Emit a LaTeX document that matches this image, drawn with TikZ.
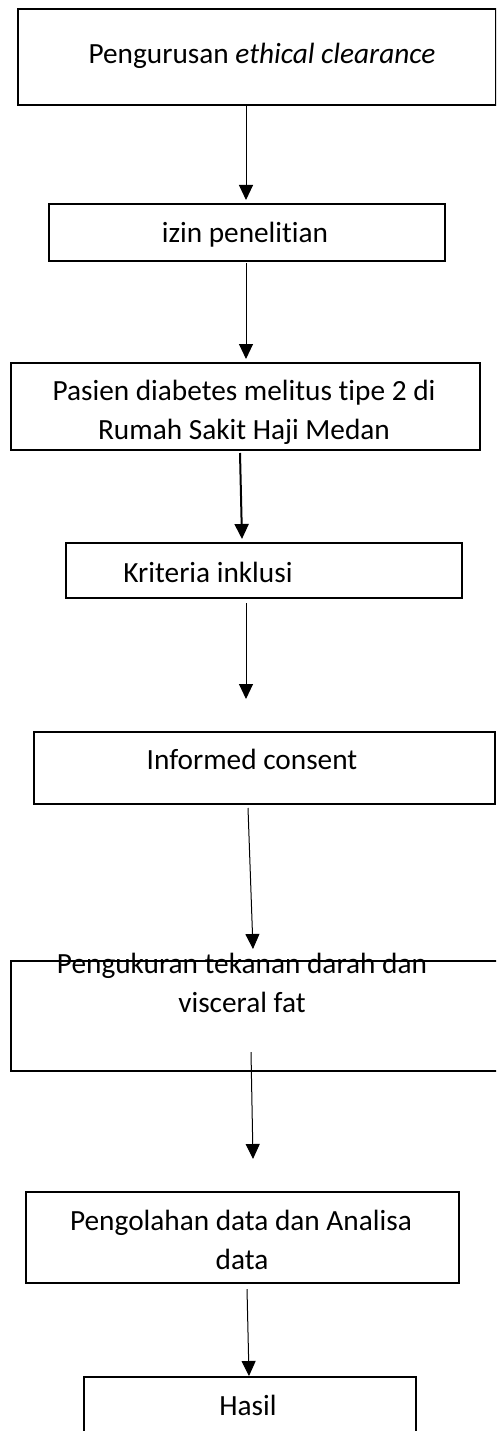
\documentclass[tikz,border=0pt]{standalone}
\usepackage{fontspec}
\setmainfont[Ligatures=NoCommon]{Carlito}
\usetikzlibrary{arrows.meta}
\begin{document}
\begin{tikzpicture}[x=1pt,y=-1pt,
  boxline/.style={draw=black,line width=2.2pt,fill=none},
  lbl/.style={inner sep=0pt,anchor=base,font=\fontsize{29.3}{39}\selectfont},
  conn/.style={draw=black,line width=1pt,-{Triangle[width=14pt,length=15pt]}},
  thickconn/.style={conn,line width=2pt}]
\useasboundingbox (0,0) rectangle (496,1431);
\clip (0,0) rectangle (496,1431);
% boxes
\node[boxline,inner sep=0pt,minimum width=478pt,minimum height=96pt,anchor=north west] (b1) at (17,8) {};
\node[boxline,inner sep=0pt,minimum width=396pt,minimum height=57pt,anchor=north west] (b2) at (48,203) {};
\node[boxline,inner sep=0pt,minimum width=469pt,minimum height=87pt,anchor=north west] (b3) at (10,362) {};
\node[boxline,inner sep=0pt,minimum width=396pt,minimum height=55pt,anchor=north west] (b4) at (65,542) {};
\node[boxline,inner sep=0pt,minimum width=461pt,minimum height=72pt,anchor=north west] (b5) at (33,731) {};
\node[boxline,inner sep=0pt,minimum width=500pt,minimum height=110pt,anchor=north west] (b6) at (10,960) {};
\node[boxline,inner sep=0pt,minimum width=433pt,minimum height=91pt,anchor=north west] (b7) at (25,1191) {};
\node[boxline,inner sep=0pt,minimum width=332pt,minimum height=80pt,anchor=north west] (b8) at (83,1376) {};
% texts
\node[lbl] (t1) at (262,64) {Pengurusan \textit{ethical clearance}};
\node[lbl] (t2) at (245,243) {izin penelitian};
\node[lbl] (t3a) at (244,400) {Pasien diabetes melitus tipe 2 di};
\node[lbl] (t3b) at (244,439) {Rumah Sakit Haji Medan};
\node[lbl] (t4) at (208,582) {Kriteria inklusi};
\node[lbl] (t5) at (252,769) {Informed consent};
\node[lbl] (t6a) at (242,973) {Pengukuran tekanan darah dan};
\node[lbl] (t6b) at (242,1012) {visceral fat};
\node[lbl] (t7a) at (241,1230) {Pengolahan data dan Analisa};
\node[lbl] (t7b) at (242,1269) {data};
\node[lbl] (t8) at (248,1415) {Hasil};
% connector ends
\coordinate (a1s) at (246,105); \coordinate (a1e) at (246,200);
\coordinate (a2s) at (246,263); \coordinate (a2e) at (246,359);
\coordinate (a3s) at (240,453); \coordinate (a3e) at (242,539);
\coordinate (a4s) at (246,603); \coordinate (a4e) at (246,699);
\coordinate (a5s) at (248,808); \coordinate (a5e) at (253,949);
\coordinate (a6s) at (251,1052); \coordinate (a6e) at (253,1159);
\coordinate (a7s) at (247,1289); \coordinate (a7e) at (249,1376);
\draw[conn] (a1s) -- (a1e);
\draw[conn] (a2s) -- (a2e);
\draw[thickconn] (a3s) -- (a3e);
\draw[conn] (a4s) -- (a4e);
\draw[conn] (a5s) -- (a5e);
\draw[conn] (a6s) -- (a6e);
\draw[conn] (a7s) -- (a7e);
\end{tikzpicture}
\end{document}
